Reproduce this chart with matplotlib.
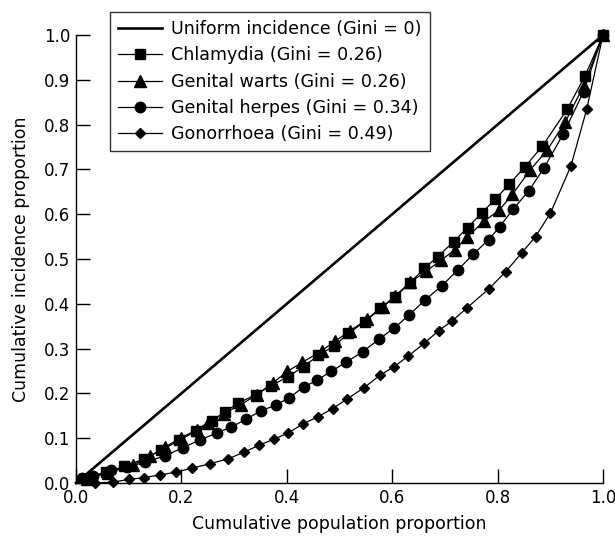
import matplotlib
matplotlib.use("Agg")
import matplotlib.pyplot as plt

plt.rcParams['font.family'] = ['DejaVu Sans']

# Data
chlamydia_x = [0.0, 0.02, 0.056, 0.092, 0.129, 0.161, 0.196, 0.227, 0.258, 0.283, 0.307, 0.341, 0.370,
               0.402, 0.432, 0.460, 0.490, 0.517, 0.548, 0.576, 0.605, 0.633, 0.661, 0.686,
               0.717, 0.743, 0.770, 0.796, 0.822, 0.852, 0.885, 0.932, 0.966, 1.0]
chlamydia_y = [0.0, 0.010, 0.024, 0.037, 0.054, 0.073, 0.095, 0.116, 0.139, 0.159, 0.178, 0.197, 0.217,
               0.237, 0.260, 0.285, 0.306, 0.334, 0.360, 0.390, 0.415, 0.446, 0.479, 0.505,
               0.539, 0.570, 0.603, 0.634, 0.667, 0.706, 0.752, 0.834, 0.909, 1.0]

warts_x = [0.0, 0.02, 0.06, 0.108, 0.141, 0.169, 0.199, 0.230, 0.250, 0.280, 0.313, 0.343, 0.373, 0.401,
           0.429, 0.466, 0.491, 0.520, 0.552, 0.582, 0.606, 0.634, 0.665, 0.692, 0.720,
           0.742, 0.774, 0.803, 0.828, 0.862, 0.894, 0.928, 0.963, 1.0]
warts_y = [0.0, 0.010, 0.022, 0.040, 0.060, 0.080, 0.101, 0.119, 0.135, 0.155, 0.175, 0.197, 0.223, 0.249,
           0.269, 0.295, 0.316, 0.340, 0.365, 0.392, 0.418, 0.448, 0.473, 0.497, 0.521,
           0.549, 0.584, 0.609, 0.644, 0.699, 0.743, 0.805, 0.886, 1.0]

herpes_x = [0.0, 0.011, 0.033, 0.066, 0.097, 0.131, 0.168, 0.203, 0.235, 0.268, 0.295, 0.322, 0.351,
            0.379, 0.404, 0.432, 0.458, 0.484, 0.513, 0.544, 0.575, 0.604, 0.632, 0.662,
            0.694, 0.724, 0.754, 0.783, 0.804, 0.830, 0.859, 0.888, 0.925, 0.963, 1.0]
herpes_y = [0.0, 0.012, 0.015, 0.029, 0.035, 0.047, 0.060, 0.079, 0.096, 0.112, 0.125, 0.142, 0.161,
            0.174, 0.190, 0.214, 0.230, 0.249, 0.270, 0.293, 0.321, 0.346, 0.375, 0.408,
            0.440, 0.475, 0.511, 0.543, 0.572, 0.612, 0.652, 0.703, 0.780, 0.873, 1.0]

gono_x = [0.0, 0.037, 0.070, 0.100, 0.129, 0.159, 0.189, 0.220, 0.254, 0.289, 0.319, 0.347, 0.376, 0.403,
          0.431, 0.459, 0.487, 0.515, 0.547, 0.576, 0.604, 0.630, 0.661, 0.688, 0.714,
          0.742, 0.783, 0.815, 0.846, 0.872, 0.900, 0.939, 0.969, 1.0]
gono_y = [0.0, 0.000, 0.002, 0.008, 0.012, 0.018, 0.024, 0.033, 0.043, 0.054, 0.069, 0.084, 0.098, 0.112,
          0.132, 0.148, 0.166, 0.188, 0.213, 0.240, 0.260, 0.283, 0.312, 0.340, 0.362,
          0.391, 0.433, 0.471, 0.514, 0.550, 0.602, 0.707, 0.834, 1.0]

uniform_x = [0.0, 1.0]
uniform_y = [0.0, 1.0]

labels = ["Uniform incidence (Gini = 0)", "Chlamydia (Gini = 0.26)",
          "Genital warts (Gini = 0.26)", "Genital herpes (Gini = 0.34)",
          "Gonorrhoea (Gini = 0.49)"]
ticks = [0.0, 0.1, 0.2, 0.3, 0.4, 0.5, 0.6, 0.7, 0.8, 0.9, 1.0]
xticks = [0.0, 0.2, 0.4, 0.6, 0.8, 1.0]

fig = plt.figure(figsize=(6.15, 5.38), dpi=100)
ax = fig.add_axes([76/615, 1-483/538, (603-76)/615, (483-35)/538])

ax.plot(uniform_x, uniform_y, color='black', lw=1.9, label=labels[0], clip_on=False)
series = [(chlamydia_x, chlamydia_y, 's', 7),
          (warts_x, warts_y, '^', 8),
          (herpes_x, herpes_y, 'o', 7.5),
          (gono_x, gono_y, 'D', 5.5)]
for (xs, ys, m, ms), lab in zip(series, labels[1:]):
    ax.plot(xs, ys, color='black', lw=0.9, marker=m, markersize=ms,
            markevery=slice(1, None), label=lab, clip_on=False)

ax.set_xlim(0, 1)
ax.set_ylim(0, 1)
ax.set_xticks(xticks)
ax.set_yticks(ticks)
ax.set_xticklabels([f"{t:.1f}" for t in xticks])
ax.set_yticklabels([f"{t:.1f}" for t in ticks])
for s in ['top', 'right']:
    ax.spines[s].set_visible(False)
for s in ['left', 'bottom']:
    ax.spines[s].set_linewidth(1.0)
ax.tick_params(direction='in', length=10, width=1.0, labelsize=12, pad=4)
ax.set_xlabel("Cumulative population proportion", fontsize=12.5, labelpad=6)
ax.set_ylabel("Cumulative incidence proportion", fontsize=12.5, labelpad=10)

leg = fig.legend(loc='upper left', bbox_to_anchor=(110/615, 1-12/538), fontsize=12.6,
                 frameon=True, fancybox=False, edgecolor='black', handlelength=2.5,
                 handletextpad=0.55, labelspacing=0.48, borderpad=0.45, borderaxespad=0,
                 markerscale=1.0)
leg.get_frame().set_linewidth(1.0)

fig.savefig("out.png", dpi=100)
